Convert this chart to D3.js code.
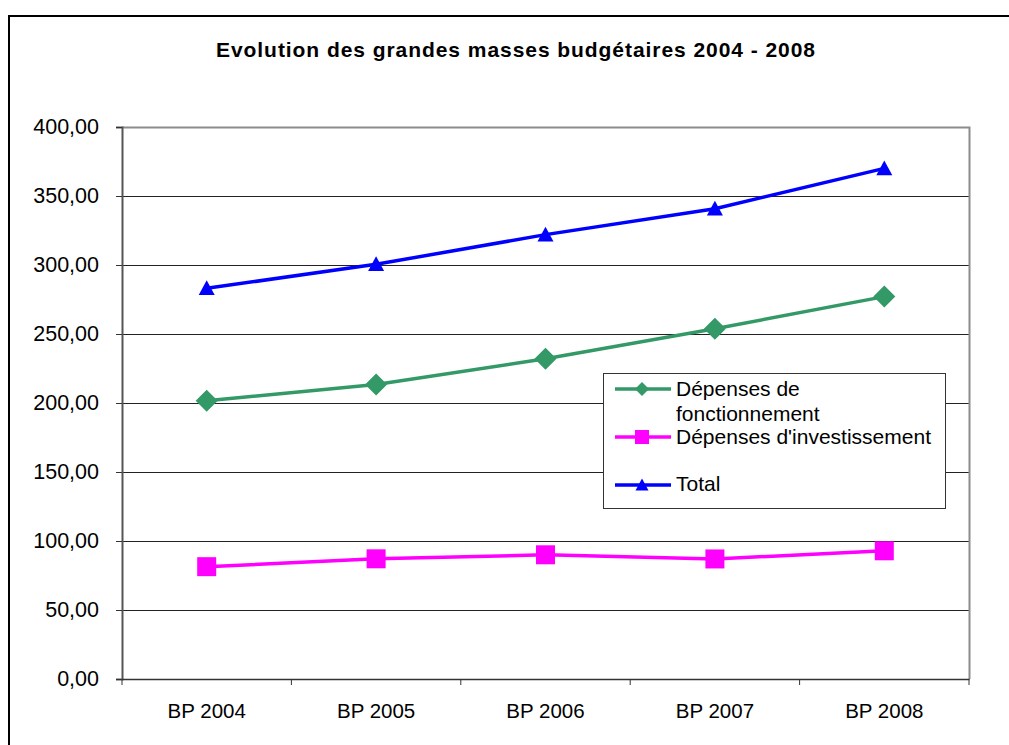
<!DOCTYPE html>
<html>
<head>
<meta charset="utf-8">
<script src="https://cdn.jsdelivr.net/npm/d3@7/dist/d3.min.js"></script>
<style>
  html, body { margin: 0; padding: 0; background: #fff; }
  svg { display: block; }
  text { font-family: "Liberation Sans", Arial, sans-serif; }
</style>
</head>
<body>
<svg id="chart" width="1009" height="745"></svg>
<script>
const categories = ["BP 2004", "BP 2005", "BP 2006", "BP 2007", "BP 2008"];
const fonctionnement = [201.7, 213.4, 232.0, 253.8, 277.1];
const investissement = [81.4, 87.1, 90.0, 87.0, 92.9];
const total = [283.1, 300.5, 322.0, 340.8, 370.0];
const yTicks = [0, 50, 100, 150, 200, 250, 300, 350, 400];
const title = "Evolution des grandes masses budgétaires 2004 - 2008";

const series = [
  { name: ["Dépenses de", "fonctionnement"], values: fonctionnement, color: "#339966", marker: "diamond" },
  { name: ["Dépenses d'investissement"], values: investissement, color: "#FF00FF", marker: "square" },
  { name: ["Total"], values: total, color: "#0000FF", marker: "triangle" }
];

const svg = d3.select("#chart");
const plot = { left: 122, top: 127, right: 969, bottom: 679 };

// outer frame
svg.append("path")
  .attr("d", `M9,1010 L9,16 L1012,16`)
  .attr("fill", "none").attr("stroke", "#000").attr("stroke-width", 2);

// title
svg.append("text")
  .attr("x", 515.5).attr("y", 56.5)
  .attr("text-anchor", "middle")
  .attr("font-size", 21).attr("font-weight", "bold")
  .attr("textLength", 599).attr("lengthAdjust", "spacing")
  .text(title);

const x = d3.scaleBand().domain(categories).range([plot.left, plot.right]);
const y = d3.scaleLinear().domain([0, 400]).range([plot.bottom, plot.top]);

// gridlines
svg.append("g")
  .selectAll("line").data(yTicks.filter(t => t > 0 && t < 400)).join("line")
  .attr("x1", plot.left).attr("x2", plot.right)
  .attr("y1", d => Math.round(y(d)) + 0.5).attr("y2", d => Math.round(y(d)) + 0.5)
  .attr("stroke", "#222").attr("stroke-width", 1);

// plot border (top/right gray)
svg.append("path")
  .attr("d", `M${plot.left},${plot.top + 0.5} L${plot.right + 0.5},${plot.top + 0.5} L${plot.right + 0.5},${plot.bottom}`)
  .attr("fill", "none").attr("stroke", "#8c8c8c").attr("stroke-width", 2);

// y axis
const yAxis = d3.axisLeft(y).tickValues(yTicks).tickSize(6).tickPadding(17)
  .tickFormat(d => d3.format(".2f")(d).replace(".", ","));
const gy = svg.append("g").attr("transform", `translate(${plot.left},0)`).call(yAxis);
gy.select(".domain").attr("stroke", "#555").attr("stroke-width", 2);
gy.selectAll(".tick line").attr("stroke", "#333");
gy.selectAll(".tick text").attr("font-size", 21.5).attr("fill", "#000")
  .attr("font-family", "Liberation Sans, Arial, sans-serif");

// x axis
const xAxis = d3.axisBottom(x).tickSize(0).tickPadding(0);
const gx = svg.append("g").attr("transform", `translate(0,${plot.bottom})`).call(xAxis);
gx.select(".domain").attr("stroke", "#333").attr("stroke-width", 1.5);
gx.selectAll(".tick text").attr("font-size", 20.5).attr("fill", "#000")
  .attr("y", 38.5).attr("dy", 0)
  .attr("font-family", "Liberation Sans, Arial, sans-serif");
// x ticks at band boundaries
svg.append("g").selectAll("line")
  .data(categories.map(c => x(c)).concat([plot.right])).join("line")
  .attr("x1", d => d).attr("x2", d => d)
  .attr("y1", plot.bottom).attr("y2", plot.bottom + 6)
  .attr("stroke", "#333").attr("stroke-width", 1);

const cx = c => x(c) + x.bandwidth() / 2;

function markerPath(type, s) {
  if (type === "diamond") return `M0,${-s} L${s},0 L0,${s} L${-s},0 Z`;
  if (type === "square") return `M${-s},${-s} L${s},${-s} L${s},${s} L${-s},${s} Z`;
  return `M0,${-s} L${s},${s * 0.85} L${-s},${s * 0.85} Z`;
}
const markerSize = { diamond: 11, square: 9.5, triangle: 8 };
const legendMarkerSize = { diamond: 7, square: 7, triangle: 6.5 };

const line = d3.line().x((d, i) => cx(categories[i])).y(d => y(d));

series.forEach(s => {
  svg.append("path").datum(s.values)
    .attr("d", line).attr("fill", "none")
    .attr("stroke", s.color).attr("stroke-width", 3.5);
  svg.append("g").selectAll("path").data(s.values).join("path")
    .attr("transform", (d, i) => `translate(${cx(categories[i])},${y(d)})`)
    .attr("d", markerPath(s.marker, markerSize[s.marker]))
    .attr("fill", s.color);
});

// legend
const lg = svg.append("g");
lg.append("rect").attr("x", 603.5).attr("y", 373.5).attr("width", 342).attr("height", 135)
  .attr("fill", "#fff").attr("stroke", "#333").attr("stroke-width", 1);
const legendRows = [
  { lineY: 389, textY: [396, 421] },
  { lineY: 437, textY: [444] },
  { lineY: 485, textY: [491] }
];
series.forEach((s, i) => {
  const r = legendRows[i];
  lg.append("line").attr("x1", 615).attr("x2", 671).attr("y1", r.lineY).attr("y2", r.lineY)
    .attr("stroke", s.color).attr("stroke-width", 3.5);
  lg.append("path").attr("transform", `translate(642,${r.lineY})`)
    .attr("d", markerPath(s.marker, legendMarkerSize[s.marker])).attr("fill", s.color);
  s.name.forEach((t, j) => {
    lg.append("text").attr("x", 676).attr("y", r.textY[j])
      .attr("font-size", 21).attr("fill", "#000").text(t);
  });
});
</script>
</body>
</html>
